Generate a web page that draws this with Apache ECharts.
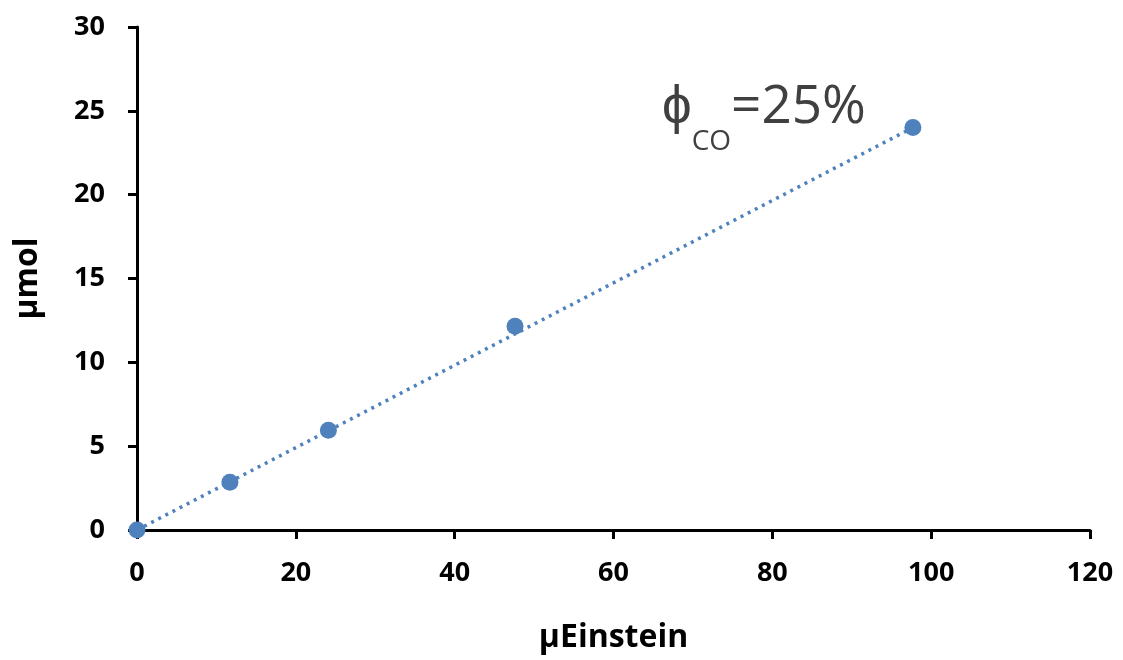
<!DOCTYPE html>
<html>
<head>
<meta charset="utf-8">
<script src="https://cdn.jsdelivr.net/npm/echarts@6/dist/echarts.min.js"></script>
<style>
  html, body { margin: 0; padding: 0; background: #fff; }
  #chart { width: 1123px; height: 660px; }
</style>
</head>
<body>
<div id="chart"></div>
<script>
// 数据
const xValues = [0, 11.7, 24.1, 47.6, 97.7];
const yValues = [0, 2.85, 5.95, 12.15, 24.0];
// 线性趋势线端点
const trendX = [0, 97.7];
const trendY = [0, 24.0];

const pointColor = '#4f81bd';
const axisFont = '"Open Sans", "Liberation Sans", sans-serif';

const chart = echarts.init(document.getElementById('chart'));

const axisCommon = {
  axisLine: { show: true, lineStyle: { color: '#000', width: 3 } },
  axisTick: { show: true, length: 9, lineStyle: { color: '#000', width: 3 } },
  splitLine: { show: false },
  axisLabel: { color: '#000', fontFamily: axisFont, fontWeight: 'bold', fontSize: 27 },
  nameTextStyle: { color: '#000', fontFamily: axisFont, fontWeight: 'bold', fontSize: 32 }
};

chart.setOption({
  animation: false,
  backgroundColor: '#fff',
  grid: { left: 137, right: 33, top: 27, bottom: 130, containLabel: false },
  xAxis: {
    ...axisCommon,
    type: 'value',
    min: 0, max: 120, interval: 20,
    name: 'µEinstein',
    nameLocation: 'middle',
    nameGap: 92,
    axisLabel: { ...axisCommon.axisLabel, margin: 30 }
  },
  yAxis: {
    ...axisCommon,
    type: 'value',
    min: 0, max: 30, interval: 5,
    name: 'µmol',
    nameLocation: 'middle',
    nameGap: 93,
    axisLabel: { ...axisCommon.axisLabel, margin: 32 }
  },
  series: [
    {
      type: 'line',
      data: trendX.map((x, i) => [x, trendY[i]]),
      showSymbol: false,
      lineStyle: { color: pointColor, width: 3.5, type: [3, 5] },
      z: 1
    },
    {
      type: 'scatter',
      data: xValues.map((x, i) => [x, yValues[i]]),
      symbolSize: 17,
      itemStyle: { color: pointColor, opacity: 1 },
      z: 2
    }
  ],
  graphic: [{
    type: 'text',
    left: 662,
    top: 81,
    style: {
      text: '{a|ϕ}{b|CO}{a|=25%}',
      rich: {
        a: { fontFamily: axisFont, fontSize: 53, fill: '#404040', color: '#404040' },
        b: { fontFamily: axisFont, fontSize: 28, fill: '#404040', color: '#404040', verticalAlign: 'bottom', padding: [0, 0, -22, 0] }
      }
    }
  }]
});
</script>
</body>
</html>
